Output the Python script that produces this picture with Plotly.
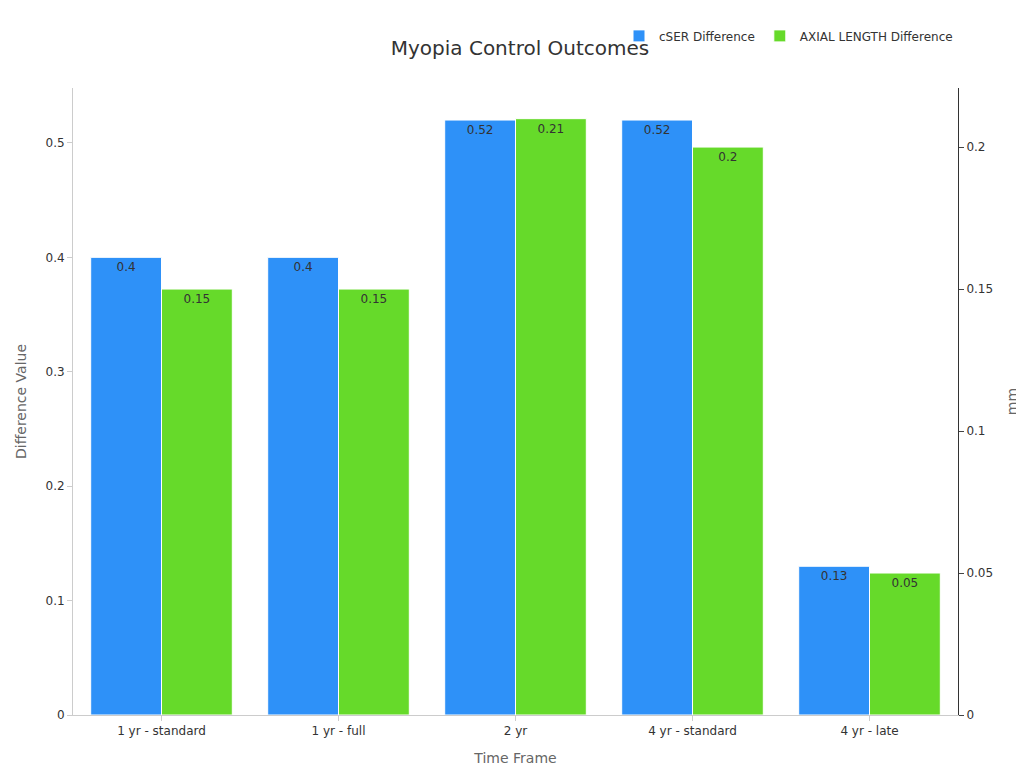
import plotly.graph_objects as go

categories = ["1 yr - standard", "1 yr - full", "2 yr", "4 yr - standard", "4 yr - late"]
cser = [0.4, 0.4, 0.52, 0.52, 0.13]
axial = [0.15, 0.15, 0.21, 0.2, 0.05]

fig = go.Figure()
fig.add_trace(go.Bar(x=categories, y=cser, name="cSER Difference", marker_color="#2E91F8",
                     marker_line=dict(color="white", width=1), offsetgroup=1,
                     text=[str(v) for v in cser], textposition="inside", insidetextanchor="end",
                     textfont=dict(color="#333", size=12), yaxis="y"))
fig.add_trace(go.Bar(x=categories, y=axial, name="AXIAL LENGTH Difference", marker_color="#66DA2A",
                     marker_line=dict(color="white", width=1), offsetgroup=2,
                     text=[str(v) for v in axial], textposition="inside", insidetextanchor="end",
                     textfont=dict(color="#333", size=12), yaxis="y2"))
fig.update_layout(
    width=1024, height=768, plot_bgcolor="white", paper_bgcolor="white",
    font=dict(family="DejaVu Sans", color="#333", size=12),
    title=dict(text="Myopia Control Outcomes", x=0.5, y=0.957, xanchor="center", font=dict(size=20)),
    barmode="group", bargap=0.2, bargroupgap=0,
    margin=dict(l=65, r=74, t=80, b=61),
    legend=dict(orientation="h", x=1.0, xanchor="right", y=1.06, yanchor="bottom", font=dict(size=12)),
    xaxis=dict(title=dict(text="Time Frame", font=dict(color="#666", size=14)), showline=True, linecolor="#ccc", ticks="outside", tickcolor="#ccc"),
    yaxis=dict(title=dict(text="Difference Value", font=dict(color="#666", size=14)), range=[0, 0.548], showgrid=False,
               showline=True, linecolor="#ccc", ticks="outside", tickcolor="#ccc", dtick=0.1, zeroline=False),
    yaxis2=dict(title=dict(text="mm", font=dict(color="#666", size=14)), overlaying="y", side="right", range=[0, 0.2208],
                showgrid=False, showline=True, linecolor="#333", ticks="outside", dtick=0.05, zeroline=False),
)
fig.write_html("out.html")
